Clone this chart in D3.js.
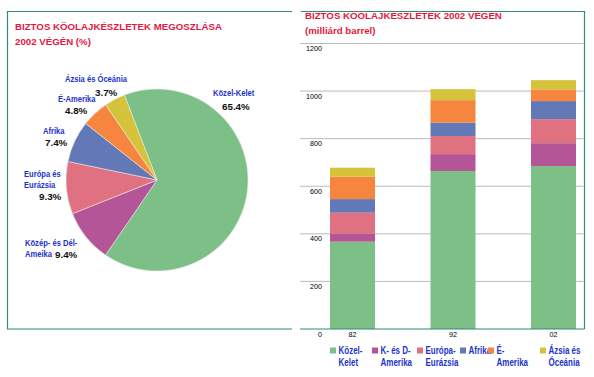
<!DOCTYPE html>
<html>
<head>
<meta charset="utf-8">
<script src="https://cdn.jsdelivr.net/npm/d3@7"></script>
<style>
  body { margin: 0; background: #fff; }
  svg { display: block; }
  .narrow { font-family: "Liberation Sans", Arial, sans-serif; font-weight: bold; }
  .sans { font-family: "Liberation Sans", Arial, sans-serif; }
</style>
</head>
<body>
<div id="chart"></div>
<script>
// pie data: share of reserves at end of 2002 (%)
const pieLabels = [["Közel-Kelet"], ["Közép- és Dél-", "Ameika"], ["Európa és", "Eurázsia"], ["Afrika"], ["É-Amerika"], ["Ázsia és Óceánia"]];
const pieValues = [65.4, 9.4, 9.3, 7.4, 4.8, 3.7];

// stacked bars (billion barrel)
const years = ["82", "92", "02"];
const seriesNames = ["Közel-Kelet", "K- és D-Amerika", "Európa-Eurázsia", "Afrika", "É-Amerika", "Ázsia és Óceánia"];
const legendLines = [["Közel-", "Kelet"], ["K- és D-", "Amerika"], ["Európa-", "Eurázsia"], ["Afrika"], ["É-", "Amerika"], ["Ázsia és", "Óceánia"]];
const kozelKelet = [367, 664, 685];
const kesDAmerika = [35, 71, 96];
const europaEurazsia = [87, 76, 101];
const afrika = [57, 56, 76];
const eAmerika = [94, 95, 49];
const azsiaOceania = [38, 46, 39];
const yTicks = [0, 200, 400, 600, 800, 1000, 1200];

const colors = ["#7dc087", "#b45598", "#df7181", "#6378b7", "#f5853f", "#d4c33b"];
const teal = "#2f8b74";
const red = "#e5173f";
const blue = "#2333c8";

const W = 594, H = 377;
const svg = d3.select("#chart").append("svg")
  .attr("width", W).attr("height", H);

// condensed bold blue text (no narrow font installed, so squeeze it)
function narrowText(parent, lines, x, y, lh, size) {
  parent.append("text").attr("class", "narrow").attr("fill", blue).attr("font-size", size)
    .attr("transform", `translate(${x},${y}) scale(0.8,1)`)
    .selectAll("tspan").data(lines).enter().append("tspan")
    .attr("x", 0).attr("y", (d, j) => j * lh)
    .text(d => d);
}

// frames
const frame = svg.append("g").attr("fill", "none").attr("stroke", teal).attr("stroke-width", 1.2);
frame.append("path").attr("d", "M292,11.5 H7.5 V329 H292");
frame.append("path").attr("d", "M301,11.5 H584.5 V329");

// ---------- left: pie ----------
svg.append("text").attr("class", "sans").attr("fill", red)
  .attr("font-size", 9.7).attr("font-weight", "bold")
  .selectAll("tspan")
  .data(["BIZTOS KÖOLAJKÉSZLETEK MEGOSZLÁSA", "2002 VÉGÉN (%)"])
  .enter().append("tspan")
  .attr("x", 15).attr("y", (d, i) => 29.5 + i * 15.5)
  .text(d => d);

const cx = 157, cy = 180, r = 91;
const rad = Math.PI / 180;
const pie = d3.pie().sort(null).startAngle(-21 * rad).endAngle(339 * rad);
const arc = d3.arc().innerRadius(0).outerRadius(r);
const arcs = pie(pieValues);

const pg = svg.append("g").attr("transform", `translate(${cx},${cy})`);
pg.selectAll("path").data(arcs).enter().append("path")
  .attr("d", arc)
  .attr("fill", (d, i) => colors[i])
  .attr("stroke", "#e8e8e8")
  .attr("stroke-width", 0.6);

// label anchors (name start x, name baseline y, percent x, percent baseline y)
const pieLabelPos = [
  [213, 96, 222, 110],
  [25, 246, 55, 258],
  [24, 177, 39, 200],
  [43, 134, 45, 145.5],
  [58, 102, 65, 114],
  [65, 82, 95, 96]
];

const lg = svg.append("g");
arcs.forEach((a, i) => {
  const p = pieLabelPos[i];
  narrowText(lg, pieLabels[i], p[0], p[1], 11.5, 9.5);
  lg.append("text").attr("class", "sans").attr("fill", "#111")
    .attr("font-size", 9.8).attr("font-weight", "bold")
    .attr("x", p[2]).attr("y", p[3])
    .text(d3.format(".1f")(pieValues[i]) + "%");
});

// ---------- right: stacked bars ----------
svg.append("text").attr("class", "sans").attr("fill", red)
  .attr("font-size", 9.7).attr("font-weight", "bold")
  .selectAll("tspan")
  .data(["BIZTOS KÖOLAJKÉSZLETEK 2002 VÉGÉN", "(milliárd barrel)"])
  .enter().append("tspan")
  .attr("x", 305).attr("y", (d, i) => 19 + i * 14.5)
  .text(d => d);

const x = d3.scaleBand().domain(years).range([330, 576]).paddingInner(0.552).paddingOuter(0);
const y = d3.scaleLinear().domain([0, 1200]).range([329, 43.5]);

const grid = svg.append("g");
grid.selectAll("line").data(yTicks.filter(t => t > 0)).enter().append("line")
  .attr("x1", 300).attr("x2", 583.5)
  .attr("y1", d => y(d)).attr("y2", d => y(d))
  .attr("stroke", "#aaaaaa").attr("stroke-width", 0.8);
grid.selectAll("text").data(yTicks).enter().append("text")
  .attr("class", "sans").attr("font-size", 7.2).attr("fill", "#000")
  .attr("text-anchor", "end")
  .attr("x", 322).attr("y", d => y(d) + 7.5)
  .text(d => d);

const table = years.map((yr, i) => {
  const row = { year: yr };
  [kozelKelet, kesDAmerika, europaEurazsia, afrika, eAmerika, azsiaOceania]
    .forEach((s, k) => row[seriesNames[k]] = s[i]);
  return row;
});
const stacked = d3.stack().keys(seriesNames)(table);

svg.append("g").selectAll("g").data(stacked).enter().append("g")
  .attr("fill", (d, i) => colors[i])
  .selectAll("rect").data(d => d).enter().append("rect")
  .attr("x", d => x(d.data.year))
  .attr("width", x.bandwidth())
  .attr("y", d => y(d[1]))
  .attr("height", d => y(d[0]) - y(d[1]));

// baseline axis
svg.append("line").attr("x1", 300).attr("x2", 584.5).attr("y1", 329).attr("y2", 329)
  .attr("stroke", teal).attr("stroke-width", 1.2);

svg.append("g").selectAll("text").data(years).enter().append("text")
  .attr("class", "sans").attr("font-size", 7.2).attr("fill", "#000")
  .attr("text-anchor", "middle")
  .attr("x", d => x(d) + x.bandwidth() / 2).attr("y", 336.5)
  .text(d => d);

// legend
const legendX = [330, 372, 417, 460, 488, 540];
const leg = svg.append("g");
seriesNames.forEach((s, i) => {
  leg.append("rect").attr("x", legendX[i]).attr("y", 347.5)
    .attr("width", 6).attr("height", 6).attr("fill", colors[i]);
  narrowText(leg, legendLines[i], legendX[i] + 8.5, 354, 12.5, 10);
});
</script>
</body>
</html>
